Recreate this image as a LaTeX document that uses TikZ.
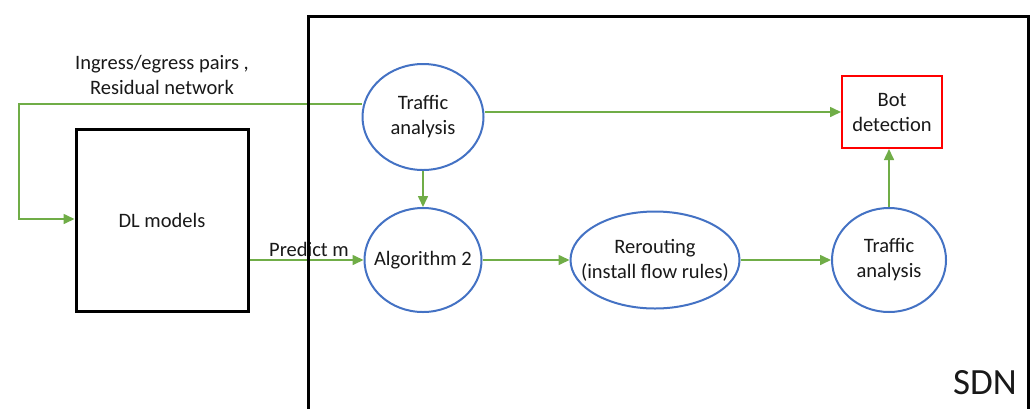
\documentclass[tikz,border=0pt]{standalone}
\usepackage{fontspec}
\setmainfont{Carlito}
\usetikzlibrary{shapes.geometric,arrows.meta}
\definecolor{eblue}{HTML}{4472C4}
\definecolor{agreen}{HTML}{70AD47}
\definecolor{bred}{HTML}{FF0000}
\begin{document}
\begin{tikzpicture}[x=1pt,y=-1pt,
  every node/.style={font=\fontsize{20.5}{25}\selectfont, text=black!90},
  ell/.style={ellipse, draw=eblue, line width=2pt, inner sep=0pt},
  blackbox/.style={rectangle, draw=black, line width=3pt, inner sep=0pt},
  redbox/.style={rectangle, draw=bred, line width=2pt, inner sep=0pt, align=center},
  flow/.style={draw=agreen, line width=1.6pt, -{Triangle[length=11pt,width=10pt]}},
  lbl/.style={inner sep=0pt, align=center}]
\useasboundingbox (0,0) rectangle (1032,408);
\fill[white] (0,0) rectangle (1032,408);

\node[blackbox, minimum width=172pt, minimum height=182pt] (dl) at (162,220) {DL models};
\node[ell, minimum width=121pt, minimum height=106pt] (ta1) at (423,117) {};
\node[lbl] (ta1t) at (ta1) {Traffic\\analysis};
\node[ell, minimum width=117pt, minimum height=104pt] (alg) at (423,260) {};
\node[lbl] (algt) at (alg) {Algorithm 2};
\node[ell, minimum width=169pt, minimum height=97pt] (rr) at (655,260) {};
\node[lbl] (rrt) at (rr) {Rerouting\\(install flow rules)};
\node[ell, minimum width=114pt, minimum height=104pt] (ta2) at (889,260) {};
\node[lbl] (ta2t) at (ta2) {Traffic\\analysis};
\node[redbox, minimum width=100pt, minimum height=72pt] (bot) at (892,112) {Bot\\detection};

\node[lbl] (inlbl) at (162,75) {Ingress/egress pairs ,\\Residual network};
\node[lbl, anchor=base] (pm) at (309,256) {Predict m};

\coordinate (c1) at (19,104);
\coordinate (c2) at (19,219);
\draw[flow] (ta1.west |- 0,104) -- (c1) -- (c2) -- (dl.west |- c2);
\draw[flow] (ta1.east |- 0,112) -- (bot.west |- 0,112);
\draw[flow] (ta1.south) -- (alg.north);
\draw[flow] (dl.east |- 0,260) -- (alg.west);
\draw[flow] (alg.east) -- (rr.west);
\draw[flow] (rr.east) -- (ta2.west);
\draw[flow] (ta2.north) -- (bot.south -| ta2.north);

\draw[black, line width=3pt] (308,420) -- (308,16) -- (1028,16) -- (1028,420);
\node[lbl, anchor=base east, font=\fontsize{37}{40}\selectfont] (sdn) at (1017,394) {SDN};
\end{tikzpicture}
\end{document}
